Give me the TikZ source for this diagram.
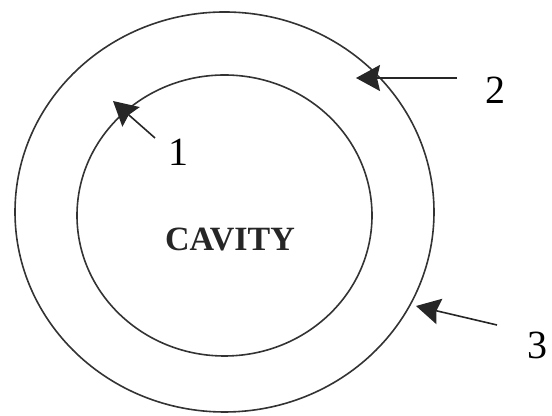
\documentclass[tikz,border=0pt]{standalone}
\usepackage{fontspec}
\setmainfont{Liberation Serif}
\usetikzlibrary{arrows.meta,positioning}

\begin{document}
\begin{tikzpicture}[
    x=0.5pt, y=0.5pt,
    wall/.style={draw, line width=0.8pt, black!80},
    numlabel/.style={inner sep=0pt, font=\fontsize{20}{24}\selectfont},
    pointer/.style={-{Stealth[length=12pt, width=13pt, inset=1.5pt]}, line width=0.8pt, black!85}
]
\useasboundingbox (0,0) rectangle (552,416);

% the two walls
\draw[wall] (224.5,204) ellipse [x radius=104.75pt, y radius=100pt];
\draw[wall] (224.5,200.5) ellipse [x radius=73.75pt, y radius=70.25pt];

\node[font=\fontsize{17}{20}\selectfont\bfseries, black!85] (cavity) at (230,176) {CAVITY};

% labels
\node[numlabel] (l1) at (178,264) {1};
\node[numlabel] (l2) at (495,326) {2};
\node[numlabel] (l3) at (537,71) {3};

% arrow ends
\coordinate (t1) at (155,278);
\coordinate (p1) at (113,315);
\coordinate (t2) at (457,338);
\coordinate (p2) at (356,338);
\coordinate (t3) at (497,91);
\coordinate (p3) at (416,110);

\draw[pointer] (t1) -- (p1);
\draw[pointer] (t2) -- (p2);
\draw[pointer] (t3) -- (p3);
\end{tikzpicture}
\end{document}
